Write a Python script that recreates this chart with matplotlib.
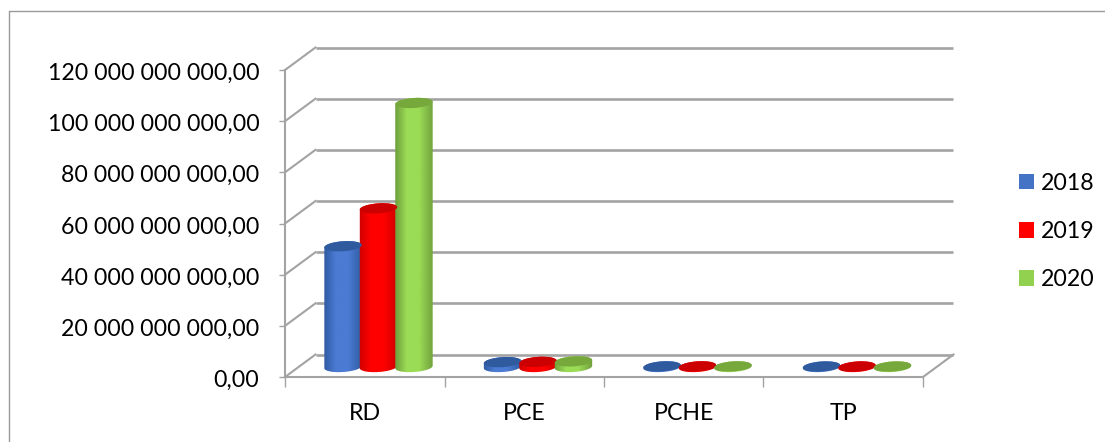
import matplotlib
matplotlib.use("Agg")
import matplotlib.pyplot as plt
import numpy as np
from matplotlib.colors import LinearSegmentedColormap
from matplotlib.lines import Line2D
from matplotlib.patches import Ellipse, Patch, PathPatch
from matplotlib.path import Path
from matplotlib.ticker import FuncFormatter
from matplotlib.transforms import Affine2D

categories = ["RD", "PCE", "PCHE", "TP"]
years = ["2018", "2019", "2020"]
values_2018 = [47.2e9, 1.9e9, 0.25e9, 0.2e9]
values_2019 = [62.0e9, 2.0e9, 0.25e9, 0.2e9]
values_2020 = [103.2e9, 2.2e9, 0.25e9, 0.2e9]
y_ticks = [0, 20e9, 40e9, 60e9, 80e9, 100e9, 120e9]

legend_colors = ["#4472c4", "#ff0000", "#92d050"]
edge_colors = ["#2f5ba3", "#d00000", "#6f9f3c"]
mid_colors = ["#4b7bd3", "#ff0000", "#9bdc56"]
cap_colors = ["#2f5a9e", "#cc0000", "#76a83c"]

GRAY = "#a3a3a3"
FONT = "Lato"
SIZE = 16.7

W, H = 1105, 442
fig = plt.figure(figsize=(W / 100, H / 100), dpi=100)
fig.patch.set_facecolor("white")

# Front plane of the 3-D box, placed in figure pixels
left, right, bottom, top = 285, 923, 377, 70
ax = fig.add_axes([left / W, 1 - bottom / H, (right - left) / W, (bottom - top) / H])
ax.set_facecolor("none")
ax.set_xlim(0, len(categories))
ax.set_ylim(0, 120e9)

# Depth of the box expressed in data units
units_x = len(categories) / (right - left)
units_y = 120e9 / (bottom - top)
depth_x = 30.5 * units_x
depth_y = 22.5 * units_y

# Back wall gridlines, side-wall diagonals and floor edge
for v in y_ticks:
    ax.plot([depth_x, len(categories) + depth_x], [v + depth_y] * 2, color=GRAY, lw=1.9,
            clip_on=False, zorder=1, solid_capstyle="butt")
    ax.plot([0, depth_x], [v, v + depth_y], color=GRAY, lw=1.5, clip_on=False, zorder=1)
ax.plot([len(categories), len(categories) + depth_x], [0, depth_y], color=GRAY, lw=1.5,
        clip_on=False, zorder=1)

for name in ("top", "right"):
    ax.spines[name].set_visible(False)
for name in ("left", "bottom"):
    ax.spines[name].set_color(GRAY)
    ax.spines[name].set_linewidth(1.5)

ax.set_yticks(y_ticks)
ax.yaxis.set_major_formatter(FuncFormatter(lambda v, _: f"{v:,.2f}".replace(",", " ").replace(".", ",")))
ax.set_xticks(np.arange(len(categories) + 1))
ax.set_xticklabels([])
ax.set_xticks(np.arange(len(categories)) + 0.5, minor=True)
ax.set_xticklabels(categories, minor=True)
ax.tick_params(axis="y", length=4.5, width=1, color=GRAY, labelsize=SIZE, pad=14)
ax.tick_params(axis="x", which="major", length=7, width=1, color=GRAY)
ax.tick_params(axis="x", which="minor", length=0, labelsize=SIZE, pad=19)
for label in ax.get_xticklabels(minor=True):
    label.set_fontfamily(FONT)
    label.set_color("black")
# Value labels sit slightly below their tick marks
for label in ax.get_yticklabels():
    label.set_fontfamily(FONT)
    label.set_color("black")
    label.set_transform(label.get_transform() + Affine2D().translate(0, -1.5))

fig.canvas.draw()

BAR_W = 36 * units_x
OFFSET_X = 13.75 * units_x
BASE_Y = 10 * units_y
ELL_W, ELL_H, TILT = 37.5, 10.0, 4.0


def cylinder(x, value, series):
    """Shaded cylinder with a tilted elliptical cap; ellipses are sized in pixels."""
    bx, by = ax.transData.transform((x, BASE_Y))
    tx, ty = ax.transData.transform((x, BASE_Y + value))
    tilt = Affine2D().scale(ELL_W / 2, ELL_H / 2).rotate_deg(TILT)
    t = np.linspace(np.pi, 2 * np.pi, 40)
    lower = tilt.transform(np.c_[np.cos(t), np.sin(t)]) + [bx, by]
    t = np.linspace(0, np.pi, 40)
    upper = tilt.transform(np.c_[np.cos(t), np.sin(t)]) + [tx, ty]
    outline = np.vstack([lower, upper, lower[:1]])
    body = PathPatch(Path(outline), transform=None, fc="none", ec="none")
    fig.add_artist(body)

    cmap = LinearSegmentedColormap.from_list(
        "shade",
        [(0, edge_colors[series]), (0.3, mid_colors[series]), (0.62, mid_colors[series]), (1, edge_colors[series])])
    shade = ax.imshow(np.linspace(0, 1, 64)[None, :], cmap=cmap, aspect="auto", zorder=3,
                      extent=[x - BAR_W * 0.53, x + BAR_W * 0.53, 0, 120e9], interpolation="bilinear")
    shade.set_clip_path(body)

    cap = Ellipse((0, 0), ELL_W, ELL_H, angle=TILT, fc=cap_colors[series], ec="none", zorder=3.1,
                  transform=Affine2D().translate(tx, ty))
    ax.add_artist(cap)
    cap.set_clip_on(False)


for s, series_values in enumerate([values_2018, values_2019, values_2020]):
    for c, val in enumerate(series_values):
        cylinder(c + 0.5 + OFFSET_X + (s - 1) * BAR_W * 0.985, val, s)

ax.set_xlim(0, len(categories))
ax.set_ylim(0, 120e9)

# Legend swatches on the right
handles = [Patch(fc=col, ec="none", label=y) for col, y in zip(legend_colors, years)]
leg = fig.legend(handles=handles, loc="center left", bbox_to_anchor=(1019 / W, 1 - 231.5 / H),
                 frameon=False, prop={"family": FONT, "size": SIZE}, handlelength=0.65, handleheight=0.65,
                 handletextpad=0.3, labelspacing=1.18, borderpad=0, borderaxespad=0)

# Thin outer chart frame, cut off by the picture edge
fig.add_artist(Line2D([9 / W, 9 / W, 1], [0, 1 - 10.5 / H, 1 - 10.5 / H], color="#9a9a9a", lw=1.0))

fig.savefig("out.png", dpi=100)
